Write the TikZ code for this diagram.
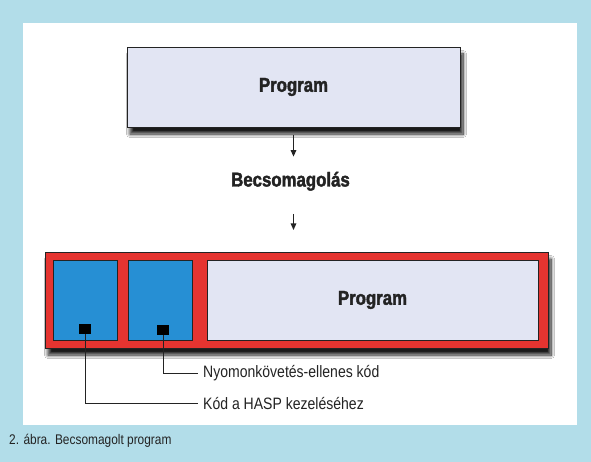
\documentclass[tikz,border=0pt]{standalone}
\usepackage{fontspec}
\setmainfont{Liberation Sans}
\newfontfamily\headfont[FakeStretch=0.84,BoldFeatures={FakeBold=2}]{Liberation Sans}
\newfontfamily\notefont[FakeStretch=0.85]{Liberation Sans}
\definecolor{bgblue}{RGB}{178,221,233}
\definecolor{boxlilac}{RGB}{226,229,243}
\definecolor{packred}{RGB}{229,52,48}
\definecolor{codeblue}{RGB}{38,143,212}
\definecolor{edgegray}{RGB}{35,35,35}
\usetikzlibrary{arrows.meta,positioning,shadows.blur}

\begin{document}
\begin{tikzpicture}[x=1pt,y=-1pt,
  box/.style={draw=edgegray,line width=0.8pt,inner sep=0pt,outer sep=0pt},
  boxshadow/.style={blur shadow={shadow xshift=3pt,shadow yshift=-7pt,
        shadow blur radius=3.5pt,shadow blur steps=10,shadow opacity=90}},
  headtext/.style={font=\headfont\bfseries\fontsize{20}{22}\selectfont,text=edgegray},
  notetext/.style={font=\notefont\fontsize{16.5}{18}\selectfont,text=edgegray,
        inner sep=5pt},
  flow/.style={-{Triangle[width=5.5pt,length=6.5pt]},line width=1.2pt,edgegray},
  leader/.style={line width=0.8pt,edgegray}]
  % background and white panel
  \useasboundingbox (0,0) rectangle (591,462);
  \fill[bgblue] (0,0) rectangle (591,462);
  \fill[white] (23,23) rectangle (577,425);

  % original program
  \node[box,boxshadow,fill=boxlilac,minimum width=333pt,minimum height=80pt,headtext]
        (prog) at (293.5,87) {Program};
  \node[headtext,inner sep=0pt,anchor=base] (pack) at (290.5,186.5) {Becsomagolás};

  % packed program
  \node[box,boxshadow,fill=packred,minimum width=503pt,minimum height=96pt]
        (frame) at (296.5,300) {};
  \node[box,fill=codeblue,minimum width=64pt,minimum height=80pt] (hasp) at (85,300) {};
  \node[box,fill=codeblue,minimum width=64pt,minimum height=80pt] (anti) at (160,300) {};
  \node[box,fill=boxlilac,minimum width=331pt,minimum height=80pt,headtext]
        (inner) at (372.5,300) {Program};
  \node[fill=black,minimum width=12pt,minimum height=10pt,inner sep=0pt] (hsq) at (85,329) {};
  \node[fill=black,minimum width=12pt,minimum height=10pt,inner sep=0pt] (asq) at (163,330) {};

  % labels
  \node[notetext,anchor=base west] (antilab) at (198,377.5) {Nyomonkövetés-ellenes kód};
  \node[notetext,anchor=base west] (hasplab) at (198,409.5) {Kód a HASP kezeléséhez};
  \draw[leader] (asq.south) |- (antilab.west);
  \draw[leader] (hsq.south) |- (hasplab.west);

  \draw[flow,shorten <=8pt,shorten >=15pt] (prog.south) -- (prog.south |- pack.north);
  \draw[flow,shorten <=23pt,shorten >=22pt] (prog.south |- pack.south) -- (prog.south |- frame.north);

  \node[font=\notefont\fontsize{14}{15}\selectfont,text=edgegray,inner sep=0pt,anchor=base west]
        (caption) at (9,444) {2. ábra. Becsomagolt program};
\end{tikzpicture}
\end{document}
